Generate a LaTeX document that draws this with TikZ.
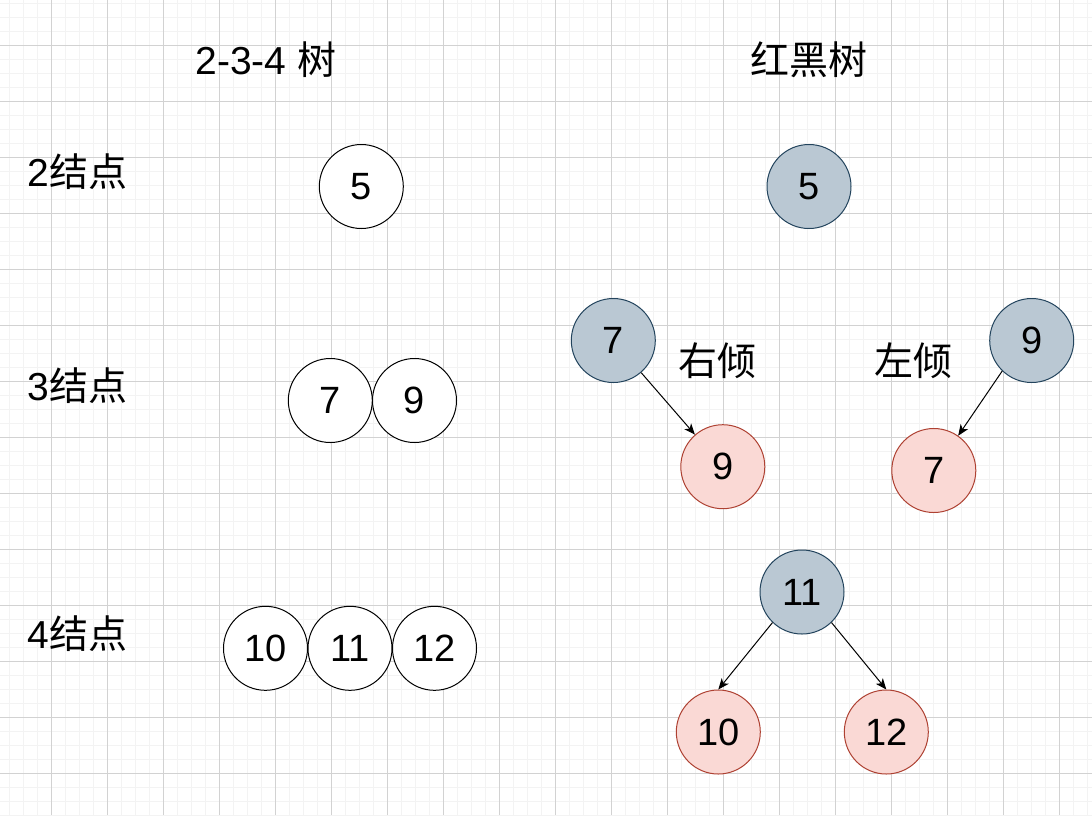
\documentclass[tikz,border=0pt]{standalone}
\usepackage{fontspec}
\setmainfont{Liberation Sans}
\newfontfamily\cjk{Noto Sans CJK SC}
\usetikzlibrary{arrows.meta}
\definecolor{gridmajor}{RGB}{210,210,210}
\definecolor{gridminor}{RGB}{243,243,243}
\definecolor{bfill}{HTML}{BAC8D3}
\definecolor{bline}{HTML}{23445D}
\definecolor{rfill}{HTML}{FAD9D5}
\definecolor{rline}{HTML}{AE4132}
\tikzset{
  txt/.style={font=\fontsize{39}{45}\selectfont, inner sep=0pt},
  ring/.style={circle, draw=black, fill=white, line width=1pt, minimum size=84pt, inner sep=0pt, font=\fontsize{38}{44}\selectfont},
  bnode/.style={ring, draw=bline, fill=bfill},
  rnode/.style={ring, draw=rline, fill=rfill},
  link/.style={-{Stealth[length=11pt,width=9pt,inset=3pt]}, line width=1pt, black},
}
\begin{document}
\begin{tikzpicture}[x=1pt,y=-1pt]
\useasboundingbox (0,0) rectangle (1092,815);
\fill[white] (0,0) rectangle (1092,815);
% grid
\foreach \x in {9.5,23.5,...,1092} \draw[gridminor, line width=1pt] (\x,0) -- (\x,815);
\foreach \y in {3,17,...,815} \draw[gridminor, line width=1pt] (0,\y) -- (1092,\y);
\foreach \x in {51.5,107.5,...,1092} \draw[gridmajor, line width=1pt] (\x,0) -- (\x,815);
\foreach \y in {45,101,...,815} \draw[gridmajor, line width=1pt] (0,\y) -- (1092,\y);
% titles and labels
\node[txt] (title1) at (266,60) {2-3-4 {\cjk 树}};
\node[txt] (title2) at (808.5,60) {\cjk 红黑树};
\node[txt] (lab2) at (77.5,171.5) {2{\cjk 结点}};
\node[txt] (lab3) at (77.5,386) {3{\cjk 结点}};
\node[txt] (lab4) at (77.5,633.5) {4{\cjk 结点}};
\node[txt] (tr) at (717,360.5) {\cjk 右倾};
\node[txt] (tl) at (913.5,360.5) {\cjk 左倾};
% 2-3-4 tree
\node[ring] (l5) at (361.3,186.5) {5};
\node[ring] (l7) at (330.3,400.5) {7};
\node[ring] (l9) at (414.5,400.5) {9};
\node[ring] (l10) at (265.5,648.3) {10};
\node[ring] (l11) at (350,648.3) {11};
\node[ring] (l12) at (434.5,648.3) {12};
% red-black tree
\node[bnode] (b5) at (809,186.5) {5};
\node[bnode] (b7) at (613.3,340.5) {7};
\node[rnode] (r9) at (722.8,466.7) {9};
\node[bnode] (b9) at (1031.7,340.5) {9};
\node[rnode] (r7) at (933.8,470.5) {7};
\node[bnode] (b11) at (802,592) {11};
\node[rnode] (r10) at (718.3,732) {10};
\node[rnode] (r12) at (886.3,732) {12};
% connectors
\draw[link] (b7) -- (r9);
\draw[link] (b9.226) -- (r7.55);
\draw[link] (b11.226) -- (r10.north);
\draw[link] (b11.314) -- (r12.north);
\end{tikzpicture}
\end{document}
